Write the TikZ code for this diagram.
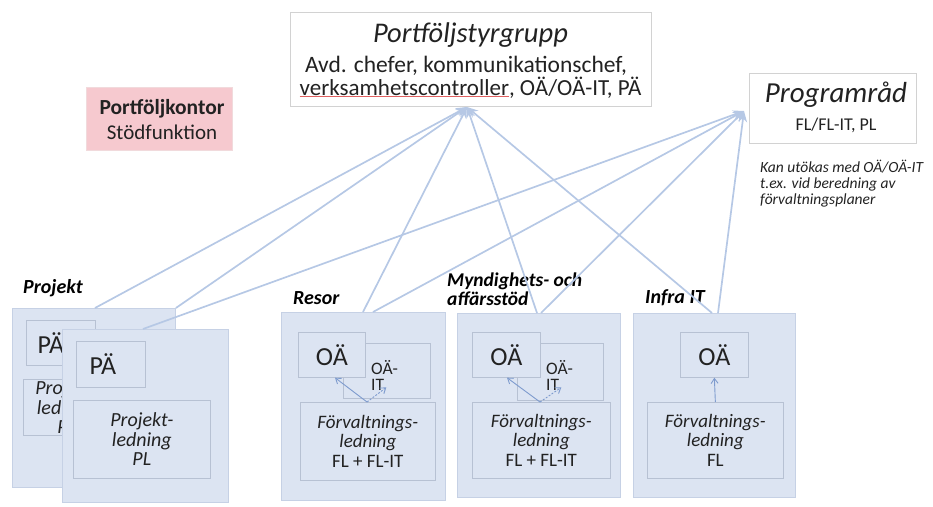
\documentclass[tikz,border=0pt]{standalone}
\usepackage{fontspec}
\setmainfont{Carlito}
\usetikzlibrary{arrows.meta,calc}
\definecolor{boxfill}{HTML}{DCE4F2}
\definecolor{outerline}{HTML}{C6D1E5}
\definecolor{innerline}{HTML}{B7C1D3}
\definecolor{linkcol}{HTML}{B6C8E5}
\definecolor{smallarrow}{HTML}{7E9BCE}
\definecolor{pinkfill}{HTML}{F6C9CF}
\definecolor{pinkline}{HTML}{F1DADC}
\definecolor{topline}{HTML}{D2D2D2}
\definecolor{txt}{HTML}{222222}
\definecolor{squiggle}{HTML}{E06060}
\begin{document}
\begin{tikzpicture}[x=1pt,y=-1pt,
  every node/.style={text=txt},
  outerbox/.style={draw=outerline, fill=boxfill, line width=0.9pt, anchor=north west, inner sep=0pt},
  innerbox/.style={draw=innerline, fill=boxfill, line width=0.7pt, anchor=north west, inner sep=0pt, align=center},
  topbox/.style={draw=topline, fill=white, line width=0.9pt, anchor=north west, inner sep=0pt},
  plain/.style={anchor=base, inner sep=0pt},
  grouplabel/.style={anchor=base west, inner sep=0pt, font=\fontsize{20}{22}\selectfont\bfseries\itshape, text=black},
  bigtxt/.style={font=\fontsize{26}{28}\selectfont},
  ittxt/.style={anchor=base west, inner sep=0pt, font=\fontsize{17.5}{16}\selectfont},
  mgmttxt/.style={font=\fontsize{19}{19.5}\selectfont},
  link/.style={draw=linkcol, line width=1.7pt, -{Stealth[length=11pt,width=9pt]}},
  inarrow/.style={draw=smallarrow, line width=0.9pt, -{Straight Barb[length=5pt,width=7pt]}}
]
\useasboundingbox (0,0) rectangle (933,506);

% top boxes
\node[topbox, minimum width=361pt, minimum height=94pt] (ps) at (290,12) {};
\node[plain, font=\fontsize{28.5}{30}\selectfont\itshape] (pst1) at (470.5,42) {Portföljstyrgrupp};
\node[plain, font=\fontsize{23.5}{24}\selectfont] (pst2) at (466,72) {Avd. chefer, kommunikationschef,};
\node[plain, font=\fontsize{23}{24}\selectfont] (pst3) at (470.5,95)
  {{\color{squiggle}\underline{\color{txt}verksamhetscontroller}}, OÄ/OÄ-IT, PÄ};

\node[topbox, minimum width=167pt, minimum height=70pt] (pr) at (749,73) {};
\node[plain, font=\fontsize{29}{30}\selectfont\itshape] (prt1) at (836,102) {Programråd};
\node[plain, font=\fontsize{18}{20}\selectfont] (prt2) at (836,130) {FL/FL-IT, PL};

\node[anchor=base west, inner sep=0pt, font=\fontsize{15.5}{15.5}\selectfont\itshape] (note1) at (760,172) {Kan utökas med OÄ/OÄ-IT};
\node[anchor=base west, inner sep=0pt, font=\fontsize{15.5}{15.5}\selectfont\itshape] (note2) at (760,188) {t.ex. vid beredning av};
\node[anchor=base west, inner sep=0pt, font=\fontsize{15.5}{15.5}\selectfont\itshape] (note3) at (760,204) {förvaltningsplaner};

\node[draw=pinkline, fill=pinkfill, line width=0.9pt, anchor=north west, inner sep=0pt,
  minimum width=146pt, minimum height=63pt] (pk) at (86,87) {};
\node[plain, font=\fontsize{21.5}{23}\selectfont\bfseries] (pkt1) at (162,114) {Portföljkontor};
\node[plain, font=\fontsize{21}{23}\selectfont] (pkt2) at (162,139) {Stödfunktion};

% Projekt
\node[grouplabel] (lproj) at (23,293) {Projekt};
\node[outerbox, minimum width=163pt, minimum height=179pt] (pback) at (12,308) {};
\node[innerbox, minimum width=69pt, minimum height=45pt, bigtxt] (pbackpa) at (26,320) {PÄ\hspace*{20pt}};
\node[innerbox, minimum width=87pt, minimum height=56pt, font=\fontsize{20}{19.5}\selectfont] (pbackpl) at (23,379) {\itshape Projekt-\\\itshape ledning\\\itshape PL};
\node[outerbox, minimum width=166pt, minimum height=173pt] (pfront) at (62,329) {};
\node[innerbox, minimum width=69pt, minimum height=46pt, bigtxt] (pfrontpa) at (76,341) {PÄ\hspace*{16pt}};
\node[innerbox, minimum width=137pt, minimum height=78pt, font=\fontsize{20}{19.5}\selectfont] (pfrontpl) at (73,400) {\itshape Projekt-\\\itshape ledning\\\itshape PL};

% Resor
\node[grouplabel] (lres) at (293,304) {Resor};
\node[outerbox, minimum width=164pt, minimum height=188pt] (res) at (281,312) {};
\node[innerbox, minimum width=87pt, minimum height=55pt] (resit) at (343,343) {};
\node[ittxt] (resit1) at (371,374) {OÄ-};
\node[ittxt] (resit2) at (371,390) {IT};
\node[innerbox, minimum width=67pt, minimum height=45pt, bigtxt] (resoa) at (298,332) {OÄ};
\node[innerbox, minimum width=135pt, minimum height=78pt, mgmttxt] (resfl) at (300,402) {\itshape Förvaltnings-\\\itshape ledning\\FL + FL-IT};

% Myndighets
\node[grouplabel, font=\fontsize{19.5}{22}\selectfont\bfseries\itshape] (lmyn1) at (447,286) {Myndighets- och};
\node[grouplabel, font=\fontsize{19.5}{22}\selectfont\bfseries\itshape] (lmyn2) at (447,305) {affärsstöd};
\node[outerbox, minimum width=163pt, minimum height=184pt] (myn) at (457,313) {};
\node[innerbox, minimum width=86pt, minimum height=57pt] (mynit) at (517,343) {};
\node[ittxt] (mynit1) at (546,374) {OÄ-};
\node[ittxt] (mynit2) at (546,390) {IT};
\node[innerbox, minimum width=68pt, minimum height=45pt, bigtxt] (mynoa) at (472,332) {OÄ};
\node[innerbox, minimum width=138pt, minimum height=76pt, mgmttxt] (mynfl) at (472,402) {\itshape Förvaltnings-\\\itshape ledning\\FL + FL-IT};

% Infra IT
\node[grouplabel] (linf) at (645,303) {Infra IT};
\node[outerbox, minimum width=162pt, minimum height=184pt] (inf) at (633,313) {};
\node[innerbox, minimum width=68pt, minimum height=45pt, bigtxt] (infoa) at (680,332) {OÄ};
\node[innerbox, minimum width=136pt, minimum height=76pt, mgmttxt] (inffl) at (647,402) {\itshape Förvaltnings-\\\itshape ledning\\FL};

% inner arrows
\draw[inarrow] ([xshift=67pt]resfl.north west) -- ([xshift=37pt]resoa.south west);
\draw[inarrow, dashed, dash pattern=on 2pt off 1.5pt] ([xshift=67pt]resfl.north west) -- ([xshift=2pt,yshift=-3pt]resit2.east);
\draw[inarrow] ([xshift=68pt]mynfl.north west) -- ([xshift=35pt]mynoa.south west);
\draw[inarrow, dashed, dash pattern=on 2pt off 1.5pt] ([xshift=68pt]mynfl.north west) -- ([xshift=2pt,yshift=-3pt]mynit2.east);
\draw[inarrow] (inffl.north) -- (infoa.south);

% links
\coordinate (pin) at (467,107);
\coordinate (prin) at (744,111);
\draw[link] ([xshift=83pt]pback.north west) -- (pin);
\draw[link] (pback.north east) -- (pin);
\draw[link] ([xshift=81pt]pfront.north west) -- (prin);
\draw[link] ([xshift=82pt]res.north west) -- (pin);
\draw[link] ([xshift=92pt]res.north west) -- (prin);
\draw[link] ([xshift=80pt]myn.north west) -- (pin);
\draw[link] ([xshift=84pt]myn.north west) -- (prin);
\draw[link] ([xshift=79pt]inf.north west) -- (pin);
\draw[link] ([xshift=85pt]inf.north west) -- (prin);
\end{tikzpicture}
\end{document}
